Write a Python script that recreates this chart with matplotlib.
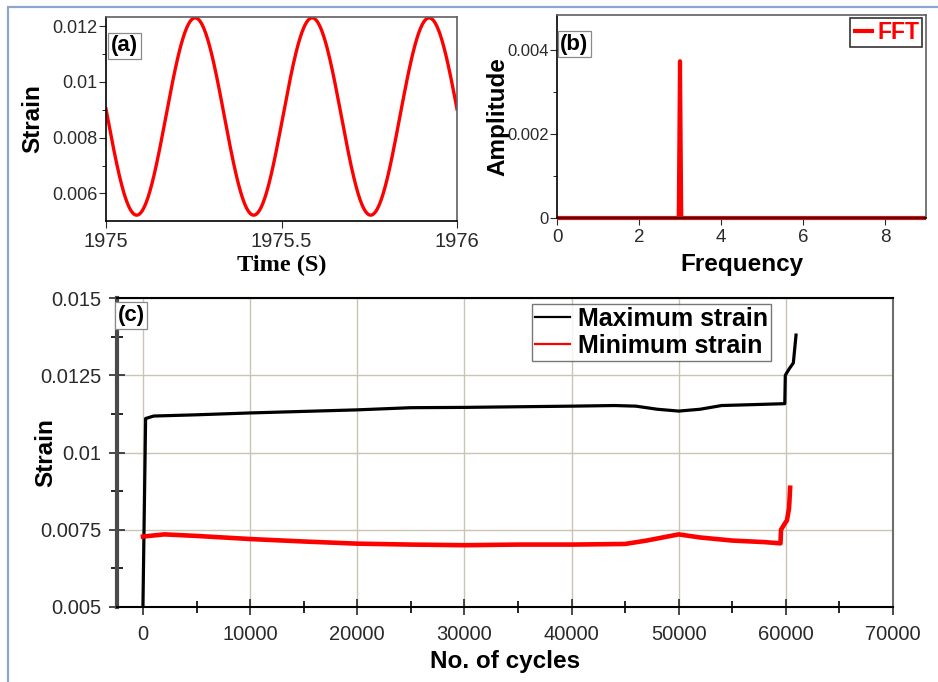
import numpy as np
import matplotlib.pyplot as plt
from matplotlib.patches import Rectangle
from matplotlib.ticker import MultipleLocator, FixedLocator

plt.rcParams['font.family'] = ['Liberation Sans', 'DejaVu Sans']

# (a) strain signal over one second of loading
wave_t_range = [1975.0, 1976.0]
wave_mean = 0.00876
wave_amp = 0.00354
wave_freq = 3.0          # Hz
wave_t_peak = 1975.254   # time of the first crest

# (b) spectrum of the signal
fft_freq = [0.0, 2.97, 3.0, 3.03, 9.0]
fft_amp = [0.0, 0.0, 0.00373, 0.0, 0.0]

# (c) peak strains per cycle over the fatigue test
max_cycles = [0, 250, 1000, 3000, 5000, 10000, 15000, 20000, 25000, 30000, 35000,
              40000, 44000, 46000, 48000, 50000, 52000, 54000, 57000, 59900,
              59950, 60300, 60500, 60700, 60950]
max_strain = [0.0050, 0.0111, 0.01118, 0.0112, 0.01122, 0.01128, 0.01133, 0.01138,
              0.01145, 0.01146, 0.01148, 0.0115, 0.01152, 0.0115, 0.0114, 0.01134,
              0.0114, 0.01152, 0.01155, 0.01158, 0.0125, 0.0127, 0.0128, 0.0129,
              0.0138]
min_cycles = [0, 2000, 5000, 10000, 15000, 20000, 25000, 30000, 35000, 40000,
              45000, 47000, 50000, 52000, 55000, 58000, 59500, 59550, 59900,
              60100, 60300, 60400]
min_strain = [0.00728, 0.00735, 0.0073, 0.0072, 0.00712, 0.00705, 0.00702, 0.007,
              0.00702, 0.00702, 0.00704, 0.00715, 0.00735, 0.00725, 0.00715,
              0.0071, 0.00706, 0.0075, 0.0077, 0.0078, 0.0082, 0.00886]

RED = '#ff0000'
TICK_COLOR = '#2a2a2a'
GRID_COLOR = '#c9c5b2'

fig = plt.figure(figsize=(9.38, 6.82), dpi=100)
fig.patch.set_facecolor('white')

# light blue page frame
fig.add_artist(Rectangle((8 / 938, -0.05), 1.2, 1 - 7 / 682 + 0.05,
                         transform=fig.transFigure, fill=False,
                         edgecolor='#8ca6cf', linewidth=1.6))


def frame(ax, left_col='black', other_col='#606060', lw=1.2):
    ax.spines['left'].set_color(left_col)
    ax.spines['bottom'].set_color('black')
    ax.spines['top'].set_color(other_col)
    ax.spines['right'].set_color(other_col)
    for s in ax.spines.values():
        s.set_linewidth(lw)


def tag(ax, s, x, y):
    ax.text(x, y, s, transform=ax.transAxes, ha='center', va='center',
            fontsize=16, fontweight='bold', zorder=10,
            bbox=dict(boxstyle='square,pad=0.12', fc='white', ec='#8a8a8a', lw=0.9))


# ---- (a) time signal ----
ax_a = fig.add_axes([106 / 938, 1 - 221 / 682, 351 / 938, 204 / 682])
t = np.linspace(wave_t_range[0], wave_t_range[1], 1200)
strain = wave_mean + wave_amp * np.cos(2 * np.pi * wave_freq * (t - wave_t_peak))
ax_a.plot(t, strain, color=RED, lw=2.4)
ax_a.set_xlim(1975, 1976)
ax_a.set_ylim(0.00501, 0.01233)
ax_a.set_xticks([1975, 1975.5, 1976])
ax_a.set_xticklabels(['1975', '1975.5', '1976'])
ax_a.set_yticks([0.006, 0.008, 0.01, 0.012])
ax_a.set_yticklabels(['0.006', '0.008', '0.01', '0.012'])
ax_a.yaxis.set_minor_locator(FixedLocator([0.007, 0.009, 0.011]))
ax_a.tick_params(axis='x', labelsize=14.5, colors=TICK_COLOR, length=5, direction='out', pad=3)
ax_a.tick_params(axis='y', labelsize=13, colors=TICK_COLOR, length=5, direction='out', pad=1)
ax_a.tick_params(which='minor', length=3)
ax_a.set_xlabel('Time (S)', fontsize=17.5, fontweight='bold',
                family=['Liberation Serif', 'DejaVu Serif'], labelpad=3)
ax_a.set_ylabel('Strain', fontsize=17.5, fontweight='bold')
ax_a.yaxis.set_label_coords(-0.177, 0.5)
frame(ax_a)
tag(ax_a, '(a)', 0.053, 0.858)

# ---- (b) FFT ----
ax_b = fig.add_axes([557 / 938, 1 - 218 / 682, 369 / 938, 203 / 682])
ax_b.plot(fft_freq, fft_amp, color=RED, lw=3, label='FFT', clip_on=False,
          solid_capstyle='butt')
ax_b.set_xlim(0, 9)
ax_b.set_ylim(0, 0.00483)
ax_b.set_xticks([0, 2, 4, 6, 8])
ax_b.set_yticks([0, 0.002, 0.004])
ax_b.set_yticklabels(['0', '0.002', '0.004'])
ax_b.yaxis.set_minor_locator(FixedLocator([0.001, 0.003]))
ax_b.tick_params(axis='x', labelsize=13.5, colors=TICK_COLOR, length=5, direction='out', pad=3)
ax_b.tick_params(axis='y', labelsize=12, colors=TICK_COLOR, length=5, direction='out', pad=1)
ax_b.tick_params(which='minor', length=3)
ax_b.set_xlabel('Frequency', fontsize=17.5, fontweight='bold', labelpad=5)
ax_b.set_ylabel('Amplitude', fontsize=17.5, fontweight='bold')
ax_b.yaxis.set_label_coords(-0.13, 0.5)
frame(ax_b)
leg_b = ax_b.legend(loc='upper right', bbox_to_anchor=(922 / 938, 1 - 18 / 682),
                    bbox_transform=fig.transFigure, borderaxespad=0, fancybox=False,
                    frameon=True, handlelength=0.9, handletextpad=0.15,
                    borderpad=0.12, prop=dict(size=16.5, weight='bold'))
leg_b.get_frame().set_edgecolor('black')
leg_b.get_frame().set_linewidth(1.2)
for txt in leg_b.get_texts():
    txt.set_color(RED)
tag(ax_b, '(b)', 0.047, 0.857)

# ---- (c) max / min strain vs cycles ----
ax_c = fig.add_axes([117 / 938, 1 - 607 / 682, 776 / 938, 309 / 682])
ax_c.plot(max_cycles, max_strain, color='black', lw=2.3, label='Maximum strain')
ax_c.plot(min_cycles, min_strain, color=RED, lw=3.3, label='Minimum strain')
ax_c.set_xlim(-2420, 70000)
ax_c.set_ylim(0.005, 0.015)
ax_c.set_xticks(np.arange(0, 70001, 10000))
ax_c.set_xticklabels([str(v) for v in range(0, 70001, 10000)])
ax_c.xaxis.set_minor_locator(MultipleLocator(5000))
ax_c.set_yticks([0.005, 0.0075, 0.01, 0.0125, 0.015])
ax_c.set_yticklabels(['0.005', '0.0075', '0.01', '0.0125', '0.015'])
ax_c.yaxis.set_minor_locator(FixedLocator([0.00625, 0.00875, 0.01125, 0.01375]))
ax_c.tick_params(axis='both', which='major', labelsize=14.5, colors=TICK_COLOR,
                 direction='inout', length=12, width=1.2)
ax_c.tick_params(axis='both', which='minor', direction='inout', length=8, width=1.2)
ax_c.tick_params(axis='x', pad=7)
ax_c.tick_params(axis='y', pad=5)
ax_c.grid(True, which='major', color=GRID_COLOR, lw=1.0)
ax_c.set_axisbelow(True)
ax_c.set_xlabel('No. of cycles', fontsize=17.5, fontweight='bold', labelpad=4)
ax_c.set_ylabel('Strain', fontsize=17.5, fontweight='bold')
ax_c.yaxis.set_label_coords(-0.077, 0.5)
frame(ax_c, left_col='#4a4a4a', other_col='#6e6e6e', lw=1.5)
ax_c.spines['left'].set_linewidth(3)
ax_c.spines['top'].set_color('black')
leg_c = ax_c.legend(loc='upper left', bbox_to_anchor=(532 / 938, 1 - 304 / 682),
                    bbox_transform=fig.transFigure, borderaxespad=0, fancybox=False,
                    frameon=True, handlelength=1.4, handletextpad=0.3,
                    borderpad=0.12, labelspacing=0.12,
                    prop=dict(size=18, weight='bold'))
leg_c.get_frame().set_edgecolor('#555555')
leg_c.get_frame().set_linewidth(1.0)
for ln in leg_c.get_lines():
    ln.set_linewidth(1.6)
tag(ax_c, '(c)', 0.018, 0.943)

fig.savefig('out.png', dpi=100, facecolor='white')
